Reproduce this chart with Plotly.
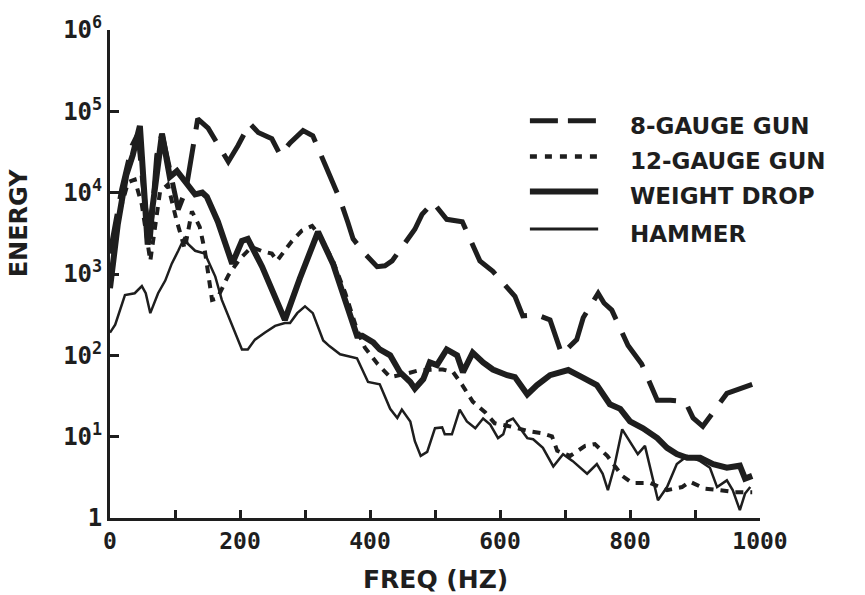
import plotly.graph_objects as go

# Frequency (Hz) / energy samples for each seismic source
gauge8_f = [0, 18, 34, 43, 54, 62, 72, 80, 92, 105, 117, 135, 151, 182, 197, 215, 228, 249, 262, 277,
            297, 312, 331, 354, 366, 374, 392, 411, 423, 434, 469, 480, 497, 518, 542, 569, 589, 623, 635, 657,
            677, 695, 718, 728, 751, 760, 772, 797, 818, 842, 862, 885, 897, 912, 949, 988]
gauge8_e = [1800, 11000, 38000, 53000, 7100, 2700, 29000, 53000, 19000, 6200, 11000, 81000, 62000, 24000, 38000,
            71000, 55000, 46000, 29000, 41000, 58000, 50000, 22000, 8200, 4300, 2700, 1780, 1230, 1260, 1450,
            3550, 5400, 7600, 4700, 4400, 1450, 1080, 530, 305, 315, 273, 103, 156, 290, 580, 440, 360, 132,
            78, 28, 28, 27, 17, 13.4, 34, 44]

gauge12_f = [2, 11, 15, 28, 38, 49, 62, 77, 89, 102, 115, 126, 138, 146, 157, 165, 182, 200, 218, 234,
             249, 257, 280, 295, 311, 323, 343, 362, 380, 392, 412, 431, 454, 477, 512, 528, 542, 558, 577, 592,
             615, 646, 665, 680, 688, 708, 731, 746, 765, 788, 803, 831, 857, 880, 892, 915, 938, 962, 988]
gauge12_e = [1780, 3400, 5900, 13500, 14500, 7100, 1450, 10300, 12500, 4700, 2040, 5900, 3800, 1910, 480, 500,
             960, 1540, 2150, 1910, 1780, 1450, 2550, 3400, 3900, 2950, 1450, 580, 207, 125, 78, 54, 59, 66, 67,
             62, 43, 27, 20, 14.6, 13.4, 11.6, 11.0, 10.1, 6.7, 5.8, 7.7, 8.1, 5.8, 3.3, 2.7, 2.7, 2.2, 2.4,
             2.8, 2.3, 2.2, 2.07, 2.07]

weight_f = [0, 12, 25, 35, 46, 58, 80, 92, 103, 131, 142, 149, 166, 188, 203, 212, 234, 269, 292, 320,
            343, 366, 380, 388, 405, 415, 431, 446, 462, 469, 482, 492, 503, 518, 534, 543, 558, 574, 589, 611,
            623, 642, 657, 677, 705, 726, 749, 769, 785, 800, 820, 842, 857, 872, 888, 908, 928, 949, 969, 977, 988]
weight_e = [670, 4100, 16500, 29000, 66000, 2300, 53000, 15600, 18500, 9500, 10000, 8900, 4400, 1340, 2550,
            2700, 1230, 273, 880, 3300, 1340, 360, 174, 174, 144, 118, 100, 62, 47, 39, 51, 82, 76, 118, 100,
            62, 108, 82, 67, 57, 54, 33, 43, 57, 66, 54, 43, 25, 22, 15.4, 12.7, 9.6, 7.3, 6.1, 5.5, 5.5, 4.6,
            4.15, 4.4, 3.05, 3.3]

hammer_f = [0, 8, 23, 38, 49, 55, 62, 74, 85, 95, 105, 115, 120, 131, 146, 162, 172, 188, 203, 212,
            223, 238, 254, 269, 277, 288, 300, 312, 328, 338, 354, 380, 397, 415, 431, 442, 449, 462, 469, 478,
            488, 500, 511, 515, 526, 538, 549, 562, 574, 585, 597, 605, 611, 620, 631, 642, 651, 666, 682, 697,
            712, 734, 749, 758, 766, 775, 788, 803, 812, 823, 835, 843, 857, 872, 888, 908, 923, 934, 949, 958,
            969, 977, 985]
hammer_e = [190, 238, 550, 580, 710, 580, 330, 580, 830, 1340, 1930, 2850, 2340, 1930, 1780, 930, 480, 230,
            118, 118, 156, 190, 230, 250, 250, 330, 400, 330, 152, 129, 103, 92, 47, 44, 22, 17, 21.5, 15.4,
            8.8, 5.8, 6.5, 12.7, 13, 10.7, 10.7, 21.5, 15.4, 12.7, 16.7, 14.1, 9.6, 10.7, 15.4, 16.7, 12.7,
            9.6, 9.3, 7.3, 4.3, 6.1, 5.0, 3.5, 4.6, 3.5, 2.2, 4.0, 12.3, 8.1, 6.1, 7.7, 2.9, 1.65, 2.4, 4.6,
            5.8, 5.0, 4.15, 2.4, 2.9, 2.2, 1.25, 2.0, 2.4]

series_names = ["8-GAUGE GUN", "12-GAUGE GUN", "WEIGHT DROP", "HAMMER"]

x_tickvals = [0, 200, 400, 600, 800, 1000]
x_ticktext = ["0", "200", "400", "600", "800", "1000"]
y_tickvals = [1, 10, 100, 1e3, 1e4, 1e5, 1e6]
y_ticktext = ["1", "10<sup>1</sup>", "10<sup>2</sup>", "10<sup>3</sup>",
              "10<sup>4</sup>", "10<sup>5</sup>", "10<sup>6</sup>"]

INK = "#1e1e1e"
styles = [
    dict(width=5, dash="40px,15px"),
    dict(width=4, dash="8px,7px"),
    dict(width=6, dash="solid"),
    dict(width=2.5, dash="solid"),
]
legend_dash = ["28px,10px", "7px,8px", "solid", "solid"]

fig = go.Figure()
for (fx, ey), name, st in zip(
    [(gauge8_f, gauge8_e), (gauge12_f, gauge12_e), (weight_f, weight_e), (hammer_f, hammer_e)],
    series_names, styles,
):
    fig.add_trace(go.Scatter(
        x=fx, y=ey, mode="lines", name=name, showlegend=False,
        line=dict(color=INK, width=st["width"], dash=st["dash"]),
    ))

# hand-drawn key on the right
key_rows = [0.814, 0.741, 0.669, 0.592]
key_widths = [5, 4.5, 6, 3]
shapes = []
annotations = []
for name, yk, dash, w in zip(series_names, key_rows, legend_dash, key_widths):
    shapes.append(dict(type="line", xref="paper", yref="paper", x0=0.646, x1=0.751, y0=yk, y1=yk,
                       line=dict(color=INK, width=w, dash=dash)))
    annotations.append(dict(xref="paper", yref="paper", x=0.797, y=yk - 0.01, xanchor="left",
                            yanchor="middle", showarrow=False, text=name,
                            font=dict(family="DejaVu Sans", size=23, color=INK, weight="bold")))

annotations.append(dict(xref="paper", yref="paper", x=-0.14, y=0.606, textangle=-90, showarrow=False,
                        text="ENERGY", xanchor="center", yanchor="middle",
                        font=dict(family="DejaVu Sans", size=24, color=INK, weight="bold")))
annotations.append(dict(xref="paper", yref="paper", x=0.5, y=-0.125, showarrow=False,
                        text="FREQ (HZ)", xanchor="center", yanchor="middle",
                        font=dict(family="DejaVu Sans", size=25, color=INK, weight="bold")))

fig.update_layout(
    width=865, height=595,
    margin=dict(l=110, r=105, t=23, b=77),
    paper_bgcolor="white", plot_bgcolor="white",
    shapes=shapes, annotations=annotations,
    xaxis=dict(range=[0, 1000], showgrid=False, zeroline=False, showline=True, linewidth=3,
               linecolor=INK, ticks="inside", ticklen=8, tickwidth=2.5, tickcolor=INK,
               tickvals=x_tickvals, ticktext=x_ticktext,
               minor=dict(dtick=100, ticks="inside", ticklen=8, tickwidth=2.5, tickcolor=INK,
                          showgrid=False),
               tickfont=dict(family="DejaVu Sans Mono", size=23, color=INK, weight="bold")),
    yaxis=dict(type="log", range=[0, 6], showgrid=False, zeroline=False, showline=True, linewidth=3,
               linecolor=INK, ticks="inside", ticklen=9, tickwidth=3, tickcolor=INK,
               tickvals=y_tickvals, ticktext=y_ticktext,
               tickfont=dict(family="DejaVu Sans Mono", size=24, color=INK, weight="bold")),
)

fig.write_html("out.html")
